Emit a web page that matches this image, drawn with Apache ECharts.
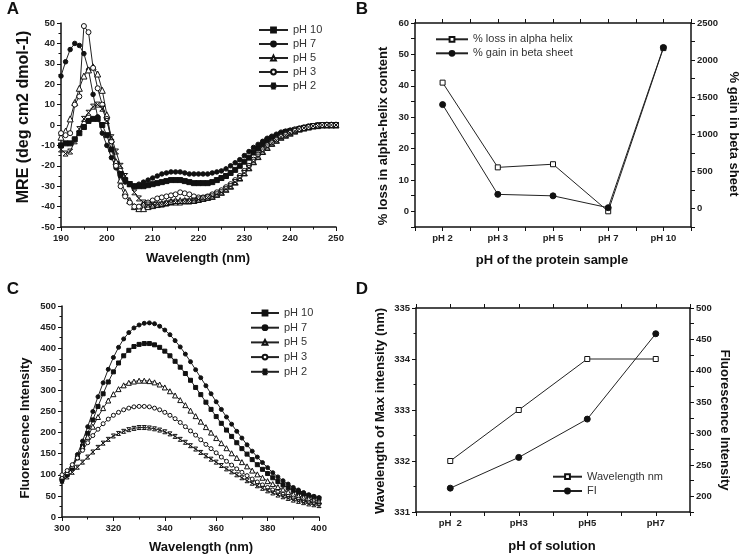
<!DOCTYPE html>
<html>
<head>
<meta charset="utf-8">
<script src="https://cdn.jsdelivr.net/npm/echarts@6/dist/echarts.min.js"></script>
<style>
  html, body { margin: 0; padding: 0; background: #fff; }
  #main { width: 740px; height: 555px; }
</style>
</head>
<body>
<div id="main"></div>
<script>
// ---- panel A: CD spectra (MRE vs wavelength) ----
var wlA = [190,191,192,193,194,195,196,197,198,199,
           200,201,202,203,204,205,206,207,208,209,
           210,211,212,213,214,215,216,217,218,219,
           220,221,222,223,224,225,226,227,228,229,
           230,231,232,233,234,235,236,237,238,239,
           240,241,242,243,244,245,246,247,248,249,
           250];
var cdPH10 = [-10,-9,-9,-7,-4,-1,2,3,3,0,
              -5,-12,-19,-24,-27,-29,-30,-30,-30,-29.5,
              -29,-28.5,-28,-27.5,-27,-27,-27,-27.5,-28,-28.5,
              -28.5,-28.5,-28.5,-28,-27,-26,-25,-23.5,-22,-20,
              -18,-16,-13.5,-11.5,-9.5,-7.5,-6.5,-5.5,-4.5,-3.5,
              -3,-2.5,-2,-1.5,-1,-0.5,-0.3,0,0,0,
              0];
var cdPH7 = [24,31,37,40,39,35,27,15,4,-4,
             -10,-16,-21,-25,-28,-29,-30,-29,-28,-27,
             -26,-25,-24,-23.5,-23,-23,-23,-23.5,-24,-24,
             -24,-24,-24,-23.5,-23,-22.5,-21.5,-20,-18.5,-17,
             -15,-13,-11,-9.5,-8,-6.5,-5.5,-4.5,-3.5,-3,
             -2.5,-2,-1.5,-1,-0.5,-0.3,0,0,0.3,0.3,
             0.3];
var cdPH5 = [-6,-3,3,11,18,24,27,28.5,25,17,
             5,-7,-18,-27,-33,-37,-40,-41,-41,-40,
             -39.5,-39,-38.5,-38,-37.5,-37,-37,-37,-37,-37,
             -36.5,-36,-35.5,-35,-34,-33,-31.5,-30,-28,-26,
             -23.5,-21,-18,-15.5,-13,-11,-9,-7.5,-6,-5,
             -4,-3,-2,-1.5,-1,-0.5,-0.3,0,0,0,
             0];
var cdPH3 = [-4,-5,-4,10,14,48.5,45.5,28,18,10,
             3,-8,-20,-30,-35,-38,-40,-40,-39,-38,
             -37,-36,-35.5,-35,-34.5,-34,-33,-33.5,-34,-35,
             -35.5,-35.5,-35,-34,-33,-32,-30.5,-29,-27,-25,
             -22.5,-20,-17,-14.5,-12,-10,-8.5,-7,-5.5,-4.5,
             -3.5,-2.5,-2,-1.5,-1,-0.5,-0.3,0,0,0,
             0];
var cdPH2 = [-12,-14,-13,-8,-2,3,6,9,10,8,
             2,-6,-13,-20,-25,-29,-33,-36,-38,-39,
             -39,-39,-39,-38.5,-38,-38,-38,-37.5,-37.5,-37,
             -36.5,-36,-35.5,-35,-34,-33,-31.5,-30,-28,-26,
             -23.5,-21,-18,-15.5,-13,-11,-9,-7.5,-6,-5,
             -4,-3,-2,-1.5,-1,-0.5,-0.3,0,0,0,
             0];

// ---- panel B: secondary structure change ----
var phB = ['pH 2', 'pH 3', 'pH 5', 'pH 7', 'pH 10'];
var lossAlpha = [41, 14, 15, 0, 52];
var gainBeta = [1400, 190, 170, 10, 2170];

// ---- panel C: fluorescence emission spectra ----
var wlC = [300,302,304,306,308,310,312,314,316,318,
           320,322,324,326,328,330,332,334,336,338,
           340,342,344,346,348,350,352,354,356,358,
           360,362,364,366,368,370,372,374,376,378,
           380,382,384,386,388,390,392,394,396,398,
           400];
var flPH10 = [90,100,116,140,168,198,230,262,292,320,
              344,365,382,395,404,409,411,411,408,402,
              393,382,369,355,340,324,307,290,272,255,
              238,222,206,191,176,162,149,136,124,113,
              103,93,84,76,69,63,58,54,50,47,
              44];
var flPH7 = [85,100,120,148,180,214,250,285,318,350,
             378,402,422,437,448,455,459,460,458,452,
             443,432,418,403,386,368,349,330,311,292,
             273,255,237,220,203,187,171,156,142,129,
             117,105,95,86,78,70,64,58,53,49,
             46];
var flPH5 = [95,106,122,143,166,190,214,237,258,276,
             291,303,312,318,321,323,323,322,319,314,
             307,298,288,277,265,252,239,226,213,200,
             187,175,163,151,140,130,120,110,101,93,
             85,78,71,65,59,54,50,46,43,40,
             37];
var flPH3 = [100,110,124,140,158,176,193,208,221,232,
             241,248,254,258,261,262,262,261,258,254,
             248,241,233,224,214,204,194,183,172,162,
             152,142,132,123,114,106,98,90,83,76,
             70,64,59,54,49,45,42,38,35,33,
             31];
var flPH2 = [85,95,106,118,130,142,154,165,175,184,
             192,198,203,207,210,212,212,211,209,206,
             202,197,191,184,177,169,161,153,145,137,
             130,122,114,107,100,93,86,80,74,68,
             62,57,52,48,44,40,37,34,31,29,
             27];

// ---- panel D: emission maximum ----
var phD = ['pH  2', 'pH3', 'pH5', 'pH7'];
var wlMax = [332, 333, 334, 334];
var fiMax = [213, 262, 323, 459];

var INK = '#111';
var FONT = 'Liberation Sans';
var STAR = 'path://M0,0L10,0M0,10L10,10M0,0L10,10M10,0L0,10';

function pairs(xs, ys) {
    return ys.map(function (y, i) { return [xs[i], y]; });
}

function ser(name, data, xi, yi, symbol, size, filled) {
    return {
        type: 'line',
        name: name,
        xAxisIndex: xi,
        yAxisIndex: yi,
        data: data,
        symbol: symbol,
        symbolSize: size,
        showSymbol: true,
        lineStyle: { color: '#222', width: 1 },
        itemStyle: { color: filled ? INK : '#fff', borderColor: INK, borderWidth: 1 },
        emphasis: { disabled: true },
        silent: true
    };
}

function axis(extra) {
    var a = {
        type: 'value',
        axisLine: { show: true, onZero: false, lineStyle: { color: INK, width: 1.5 } },
        axisTick: { show: true, length: 4, lineStyle: { color: INK, width: 1 } },
        minorTick: { show: false },
        splitLine: { show: false },
        axisLabel: { fontFamily: FONT, fontWeight: 'bold', fontSize: 9.5, color: '#222', margin: 6 }
    };
    for (var k in extra) {
        if (k === 'axisLabel') {
            for (var j in extra[k]) a.axisLabel[j] = extra[k][j];
        } else {
            a[k] = extra[k];
        }
    }
    return a;
}
var minor = { show: true, splitNumber: 2, length: 2.5, lineStyle: { color: INK } };

function legendCfg(names, left, top, w, gap) {
    return {
        data: names,
        left: left,
        top: top,
        padding: 0,
        orient: 'vertical',
        itemWidth: w,
        itemHeight: 6,
        itemGap: gap,
        selectedMode: false,
        textStyle: { fontFamily: FONT, fontSize: 11, color: '#333' },
        formatter: function (n) { return n.split('|')[0]; }
    };
}

function txt(s, x, y, size, rot, weight) {
    return {
        type: 'text', x: x, y: y, rotation: rot || 0, silent: true,
        style: {
            text: s, align: 'center', verticalAlign: 'middle',
            font: (weight || 'bold') + ' ' + size + 'px "' + FONT + '"', fill: INK
        }
    };
}

var dom = document.getElementById('main');
var myChart = echarts.init(dom);

var option = {
    animation: false,
    backgroundColor: '#fff',
    grid: [
        { left: 61, top: 23, width: 275, height: 204 },
        { left: 415, top: 23, width: 276, height: 204 },
        { left: 62, top: 306, width: 257, height: 211 },
        { left: 416, top: 308, width: 274, height: 204 }
    ],
    legend: [
        legendCfg(['pH 10|A', 'pH 7|A', 'pH 5|A', 'pH 3|A', 'pH 2|A'], 258, 24.5, 29, 3),
        legendCfg(['% loss in alpha helix', '% gain in beta sheet'], 435, 33.8, 32, 3),
        legendCfg(['pH 10|C', 'pH 7|C', 'pH 5|C', 'pH 3|C', 'pH 2|C'], 250, 307.5, 28, 3.7),
        legendCfg(['Wavelength nm', 'FI'], 552, 471.2, 29, 3.3)
    ],
    xAxis: [
        axis({ gridIndex: 0, min: 190, max: 250, interval: 10, minorTick: minor }),
        axis({ gridIndex: 1, min: 0.5, max: 5.5, interval: 0.5,
               axisLabel: { formatter: function (v) { return v % 1 === 0 ? phB[v - 1] : ''; } } }),
        axis({ gridIndex: 1, position: 'top', min: 0.5, max: 5.5, interval: 0.5, axisLabel: { show: false } }),
        axis({ gridIndex: 2, min: 300, max: 400, interval: 20, minorTick: minor }),
        axis({ gridIndex: 3, min: 0.5, max: 4.5, interval: 0.5,
               axisLabel: { formatter: function (v) { return v % 1 === 0 ? phD[v - 1] : ''; } } }),
        axis({ gridIndex: 3, position: 'top', min: 0.5, max: 4.5, interval: 0.5, axisLabel: { show: false } })
    ],
    yAxis: [
        axis({ gridIndex: 0, min: -50, max: 50, interval: 10, minorTick: minor }),
        axis({ gridIndex: 1, min: -5, max: 60, interval: 5,
               axisLabel: { formatter: function (v) { return v % 10 === 0 ? v : ''; } } }),
        axis({ gridIndex: 1, position: 'right', min: -250, max: 2500, interval: 250,
               axisLabel: { formatter: function (v) { return v % 500 === 0 ? v : ''; } } }),
        axis({ gridIndex: 2, min: 0, max: 500, interval: 50, minorTick: minor }),
        axis({ gridIndex: 3, min: 331, max: 335, interval: 1, minorTick: minor }),
        axis({ gridIndex: 3, position: 'right', min: 175, max: 500, interval: 25,
               axisLabel: { formatter: function (v) { return v % 50 === 0 ? v : ''; } } })
    ],
    series: [
        ser('pH 10|A', pairs(wlA, cdPH10), 0, 0, 'rect', 5, true),
        ser('pH 7|A', pairs(wlA, cdPH7), 0, 0, 'circle', 4.5, true),
        ser('pH 5|A', pairs(wlA, cdPH5), 0, 0, 'triangle', 6, false),
        ser('pH 3|A', pairs(wlA, cdPH3), 0, 0, 'circle', 5, false),
        ser('pH 2|A', pairs(wlA, cdPH2), 0, 0, STAR, 5, true),

        ser('% loss in alpha helix', lossAlpha.map(function (v, i) { return [i + 1, v]; }), 1, 1, 'rect', 5, false),
        ser('% gain in beta sheet', gainBeta.map(function (v, i) { return [i + 1, v]; }), 1, 2, 'circle', 6, true),

        ser('pH 10|C', pairs(wlC, flPH10), 3, 3, 'rect', 4, true),
        ser('pH 7|C', pairs(wlC, flPH7), 3, 3, 'circle', 4, true),
        ser('pH 5|C', pairs(wlC, flPH5), 3, 3, 'triangle', 5, false),
        ser('pH 3|C', pairs(wlC, flPH3), 3, 3, 'circle', 4, false),
        ser('pH 2|C', pairs(wlC, flPH2), 3, 3, STAR, 4, true),

        ser('Wavelength nm', wlMax.map(function (v, i) { return [i + 1, v]; }), 4, 4, 'rect', 5, false),
        ser('FI', fiMax.map(function (v, i) { return [i + 1, v]; }), 4, 5, 'circle', 6, true)
    ],
    graphic: [
        txt('A', 13, 9, 17, 0, '600'),
        txt('B', 362, 9, 17, 0, '600'),
        txt('C', 13, 289, 17, 0, '600'),
        txt('D', 362, 289, 17, 0, '600'),

        txt('MRE (deg cm2 dmol-1)', 24, 117, 16, Math.PI / 2),
        txt('Wavelength (nm)', 198, 258, 13),

        txt('% loss in alpha-helix content', 383, 136, 13, Math.PI / 2),
        txt('% gain in beta sheet', 734, 134, 13, -Math.PI / 2),
        txt('pH of the protein sample', 552, 260, 13),

        txt('Fluorescence Intensity', 25, 428, 13, Math.PI / 2),
        txt('Wavelength (nm)', 201, 547, 13),

        txt('Wavelength of Max intensity (nm)', 380, 411, 13, Math.PI / 2),
        txt('Fluorescence Intensity', 725, 420, 13, -Math.PI / 2),
        txt('pH of solution', 552, 546, 13)
    ]
};

if (option && typeof option === 'object') {
    myChart.setOption(option, true);
}
</script>
</body>
</html>
